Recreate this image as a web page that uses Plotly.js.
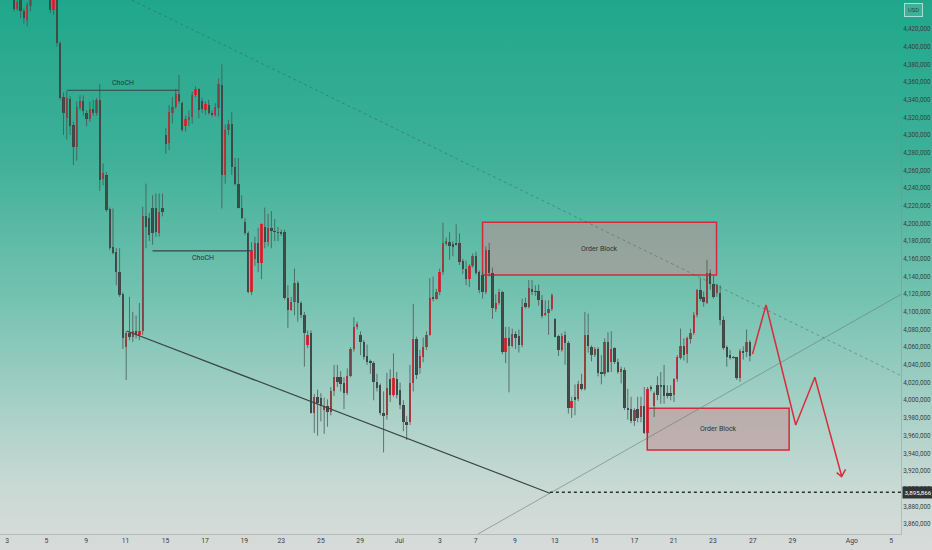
<!DOCTYPE html>
<html><head><meta charset="utf-8">
<script src="https://cdn.plot.ly/plotly-3.0.1.min.js"></script>
<style>
html,body{margin:0;padding:0;}
body{width:932px;height:550px;overflow:hidden;background:linear-gradient(to bottom,#20a78b 0%,#3db098 28%,#76c3b2 55%,#a9d1c7 75%,#c8d9d4 88%,#d8dbda 100%);}
#chart{width:932px;height:550px;}
</style></head><body><div id="chart"></div>
<script>
// candle data (price in thousands)
const open=[4460,4443,4455,4440,4430,4446,4455,4470,4465,4475,
4468,4462,4442,4455,4404,4343,4319,4341,4311,4287,
4331,4339,4325,4318,4330,4325,4340,4250,4255,4216,
4173,4168,4145,4120,4060,4076,4072,4078,4074,4078,
4209,4206,4217,4217,4189,4217,4300,4291,4325,4332,
4347,4336,4310,4317,4321,4345,4352,4339,4328,4334,
4325,4323,4331,4357,4255,4306,4313,4264,4245,4217,
4202,4189,4123,4160,4178,4155,4196,4179,4195,4192,
4190,4190,4190,4116,4102,4111,4133,4110,4096,4063,
4076,3986,4004,4003,3989,3994,3987,4010,4026,4026,
4019,4008,4028,4058,4083,4074,4066,4050,4044,4042,
4021,4017,3986,3983,4024,4006,4024,4012,3995,3975,
3975,4020,4069,4036,4049,4060,4074,4117,4115,4122,
4145,4177,4179,4177,4178,4178,4157,4148,4137,4152,
4163,4145,4142,4122,4170,4144,4103,4110,4122,4055,
4070,4061,4075,4073,4062,4110,4106,4126,4124,4124,
4113,4097,4099,4103,4092,4073,4057,4074,4065,3991,
4004,4001,4018,4013,4074,4060,4051,4058,4032,4030,
4066,4043,4059,4043,4032,4034,3991,3990,3977,3990,
3981,3993,3963,4015,3993,4017,4017,4017,4008,4008,
4006,4024,4048,4061,4052,4069,4076,4096,4125,4117,
4110,4144,4131,4121,4121,4091,4060,4051,4049,4049,
4025,4056,4055,4066];
const high=[4465,4453,4458,4443,4450,4462,4475,4485,4480,4482,
4476,4470,4458,4460,4406,4348,4350,4344,4315,4338,
4345,4345,4328,4338,4340,4342,4358,4268,4258,4218,
4217,4172,4172,4122,4078,4117,4100,4096,4110,4219,
4245,4212,4232,4234,4234,4234,4308,4334,4343,4352,
4368,4338,4322,4328,4349,4355,4353,4342,4338,4340,
4328,4336,4364,4380,4312,4317,4326,4274,4274,4232,
4206,4191,4179,4185,4195,4200,4218,4211,4214,4205,
4196,4193,4193,4130,4117,4149,4135,4112,4100,4079,
4079,4007,4012,4008,4003,4001,4015,4040,4040,4033,
4026,4036,4060,4094,4089,4078,4068,4063,4046,4044,
4030,4019,4010,4031,4035,4053,4032,4020,4000,3982,
4040,4109,4072,4057,4071,4078,4138,4140,4126,4149,
4201,4184,4190,4180,4199,4189,4160,4158,4154,4166,
4168,4147,4146,4174,4178,4150,4120,4126,4124,4083,
4083,4081,4078,4080,4115,4116,4136,4136,4130,4131,
4119,4113,4113,4121,4093,4074,4076,4078,4067,4004,
4018,4022,4030,4100,4098,4062,4060,4060,4051,4070,
4077,4078,4060,4047,4038,4037,4013,4004,3991,4004,
4004,4015,4015,4017,4010,4027,4032,4040,4017,4017,
4025,4051,4081,4070,4072,4081,4100,4126,4138,4123,
4159,4148,4141,4132,4130,4095,4062,4057,4050,4049,
4058,4061,4080,4068];
const low=[4440,4441,4432,4426,4423,4440,4454,4460,4458,4462,
4458,4438,4436,4400,4340,4300,4295,4300,4266,4271,
4328,4322,4310,4315,4322,4322,4237,4243,4213,4170,
4165,4130,4117,4058,4023,4068,4066,4070,4068,4074,
4172,4180,4176,4185,4185,4208,4279,4283,4313,4330,
4336,4304,4304,4310,4313,4343,4319,4325,4323,4323,
4321,4321,4321,4217,4245,4300,4255,4243,4217,4205,
4187,4121,4119,4152,4145,4137,4172,4174,4172,4180,
4180,4186,4114,4082,4101,4096,4089,4093,4038,4059,
3985,3963,3960,3976,3962,3970,3983,4005,4015,4010,
3990,4006,4026,4055,4080,4051,4046,4040,4030,4000,
4010,3983,3941,3978,3998,4004,4002,3990,3965,3955,
3972,4010,4024,4030,4043,4057,4073,4112,4114,4119,
4142,4175,4159,4163,4175,4153,4143,4130,4128,4150,
4142,4121,4115,4120,4140,4092,4100,4108,4052,4042,
4009,4060,4058,4054,4060,4104,4104,4119,4118,4107,
4093,4095,4074,4101,4071,4050,4055,4040,3985,3980,
3983,3999,4011,4011,4054,4044,4049,4027,4018,4027,
4031,4032,4041,4030,4019,3989,3978,3974,3971,3975,
3975,3962,3955,4010,3981,4000,3996,3996,4002,4000,
3998,4021,4046,4045,4042,4064,4074,4094,4112,4106,
4109,4125,4115,4117,4085,4057,4038,4046,4047,4023,
4021,4046,4049,4044];
const close=[4443,4451,4440,4432,4447,4455,4470,4465,4475,4468,
4462,4442,4455,4404,4342,4325,4342,4310,4287,4332,
4339,4327,4318,4330,4325,4340,4249,4257,4215,4172,
4167,4145,4119,4070,4076,4072,4078,4074,4078,4209,
4196,4187,4189,4190,4213,4213,4290,4326,4332,4347,
4338,4306,4318,4320,4345,4352,4328,4329,4335,4325,
4323,4332,4358,4255,4306,4313,4264,4245,4217,4206,
4189,4123,4168,4178,4155,4199,4179,4195,4192,4190,
4189,4188,4116,4102,4111,4133,4110,4096,4076,4074,
3986,4004,3997,3993,3994,3987,4010,4026,4021,4018,
4008,4028,4058,4083,4086,4066,4049,4043,4042,4021,
4014,3986,3982,4014,4006,4025,4006,3995,3975,3972,
4020,4069,4029,4050,4060,4074,4116,4115,4122,4145,
4178,4180,4174,4173,4176,4156,4148,4137,4152,4163,
4144,4125,4122,4170,4144,4104,4110,4122,4055,4070,
4061,4075,4071,4062,4106,4106,4127,4122,4123,4113,
4095,4099,4103,4119,4072,4057,4073,4065,3991,3999,
4000,4018,4013,4074,4061,4051,4058,4031,4030,4066,
4032,4058,4043,4032,4035,3991,3989,3976,3989,3980,
3993,3963,4013,4013,4008,4006,4015,4005,4005,4005,
4024,4049,4061,4051,4070,4076,4096,4125,4115,4111,
4144,4131,4117,4130,4091,4059,4049,4048,4048,4025,
4056,4054,4066,4050];

// x-axis labels (bar index where each date label sits)
const tickLabels=["3","5","9","11","15","17","19","23","25","29","Jul","3","7","9","13","15","17","21","23","27","29","Ago","5"];
const tickIdx=[-2.1,9.8,21.9,33.8,45.9,57.9,69.8,81.0,93.0,104.9,116.8,129.1,139.9,151.8,163.9,175.9,188.0,199.9,211.8,223.9,235.9,253.9,265.8];
// price axis labels (thousands)
const priceTickMin=3860, priceTickMax=4420, priceTickStep=20;

// drawings [x0,x1,y0,y1] in bar index / price (thousands)
const orderBlockUpper=[142.0,212.9,4141.7,4201.3];
const orderBlockLower=[191.9,234.9,3943.8,3990.9];
const chochUpper=[16.15,50.0,4350.7];
const chochLower=[42.0,72.4,4168.9];
const trendLower=[34.2,162.4,4078.4,3894.8];
const trendDesc=[35.7,269.0,4452.8,4027.5];
const trendAsc=[140.6,269.0,3848.7,4120.2];
const supportLevel=3895.866;
const supportStart=162.4;
const projX=[223.8,227.9,236.9,242.7,250.8];
const projY=[4052.4,4107.8,3972.0,4026.0,3914.3];
const arrowX=[249.3,250.8,252.0];
const arrowY=[3918.1,3913.6,3921.9];

const RED='#d52f3b', DARK='#3f4644';
const FONT='Roboto,"Liberation Sans",sans-serif';

const idx=open.map((_,i)=>i);
const wx=[],wy=[];
idx.forEach(i=>{wx.push(i,i,null);wy.push(low[i],high[i],null);});
const base=idx.map(i=>Math.min(open[i],close[i]));
const hgt=idx.map(i=>Math.max(Math.abs(close[i]-open[i]),0.9));
const cols=idx.map(i=>close[i]>=open[i]?RED:DARK);

const priceTicks=[];
for(let v=priceTickMin;v<=priceTickMax;v+=priceTickStep) priceTicks.push(v);
const priceText=priceTicks.map(v=>(v*1000).toLocaleString('en-US'));

const traces=[
 {type:'scatter',mode:'lines',x:wx,y:wy,line:{color:'rgba(70,82,78,0.75)',width:1},hoverinfo:'skip',connectgaps:false},
 {type:'bar',x:idx,y:hgt,base:base,width:0.72,marker:{color:cols,line:{width:0}},hoverinfo:'skip'},
 {type:'scatter',mode:'lines',x:projX,y:projY,line:{color:RED,width:1.5},hoverinfo:'skip'},
 {type:'scatter',mode:'lines',x:arrowX,y:arrowY,line:{color:RED,width:1.5},hoverinfo:'skip'}
];

const XMAX=268.8;
function hline(a,color,w,dash){return {type:'line',xref:'x',yref:'y',x0:a[0],x1:a[1],y0:a[2],y1:a[2],line:{color:color,width:w,dash:dash||'solid'}};}
function seg(a,color,w,dash){return {type:'line',xref:'x',yref:'y',x0:a[0],x1:a[1],y0:a[2],y1:a[3],line:{color:color,width:w,dash:dash||'solid'}};}
function box(a){return {type:'rect',xref:'x',yref:'y',x0:a[0],x1:a[1],y0:a[2],y1:a[3],fillcolor:'rgba(200,140,145,0.5)',line:{color:'#d42a37',width:1.5},layer:'below'};}

const shapes=[
 box(orderBlockUpper), box(orderBlockLower),
 seg(trendDesc,'rgba(55,75,70,0.4)',1,'dot'),
 seg(trendAsc,'rgba(100,118,112,0.55)',1),
 seg(trendLower,'#3a4542',1.2),
 hline(chochUpper,'#3a4542',1.2),
 hline(chochLower,'#3a4542',1.2),
 {type:'line',xref:'x',yref:'y',x0:supportStart,x1:XMAX,y0:supportLevel,y1:supportLevel,line:{color:'#2c3230',width:1.5,dash:'dot'}}
];

const txt={family:FONT,size:7,color:'#2e3432'};
const annotations=[
 {x:(chochUpper[0]+chochUpper[1])/2,y:chochUpper[2],yshift:7,text:'ChoCH',showarrow:false,font:txt},
 {x:(chochLower[0]+chochLower[1])/2,y:chochLower[2],yshift:-7,text:'ChoCH',showarrow:false,font:txt},
 {x:(orderBlockUpper[0]+orderBlockUpper[1])/2,y:(orderBlockUpper[2]+orderBlockUpper[3])/2,text:'Order Block',showarrow:false,font:txt},
 {x:(orderBlockLower[0]+orderBlockLower[1])/2,y:(orderBlockLower[2]+orderBlockLower[3])/2,text:'Order Block',showarrow:false,font:txt},
 {xref:'paper',x:1,xanchor:'left',xshift:1,y:supportLevel,yref:'y',text:'3,895,866',showarrow:false,bgcolor:'#2f3533',font:{family:FONT,size:6.2,color:'#ffffff'},borderpad:1.5},
 {xref:'paper',x:1,xanchor:'left',xshift:3,yref:'paper',y:1,yanchor:'top',yshift:-3,text:'USD',showarrow:false,font:{family:FONT,size:5.8,color:'#3b403e'},bordercolor:'rgba(255,255,255,0.6)',borderwidth:1,borderpad:3,bgcolor:'rgba(255,255,255,0.12)'}
];

const axFont={family:FONT,size:6.3,color:'#3b403e'};
const layout={
 width:932,height:550,margin:{l:0,r:31,t:0,b:16},
 paper_bgcolor:'rgba(0,0,0,0)',plot_bgcolor:'rgba(0,0,0,0)',
 showlegend:false,hovermode:false,bargap:0,
 xaxis:{range:[-4.24,XMAX],showgrid:false,zeroline:false,tickmode:'array',tickvals:tickIdx,ticktext:tickLabels,ticks:'',tickfont:{family:FONT,size:6.8,color:'#3b403e'},showline:true,linecolor:'rgba(120,135,130,0.35)',linewidth:1,fixedrange:true},
 yaxis:{side:'right',range:[3848.7,4452.8],tickmode:'array',tickvals:priceTicks,ticktext:priceText,showgrid:false,zeroline:false,ticks:'',tickfont:axFont,showline:true,linecolor:'rgba(120,135,130,0.35)',linewidth:1,fixedrange:true},
 shapes:shapes,annotations:annotations
};
Plotly.newPlot('chart',traces,layout,{staticPlot:true,displayModeBar:false});
</script></body></html>
